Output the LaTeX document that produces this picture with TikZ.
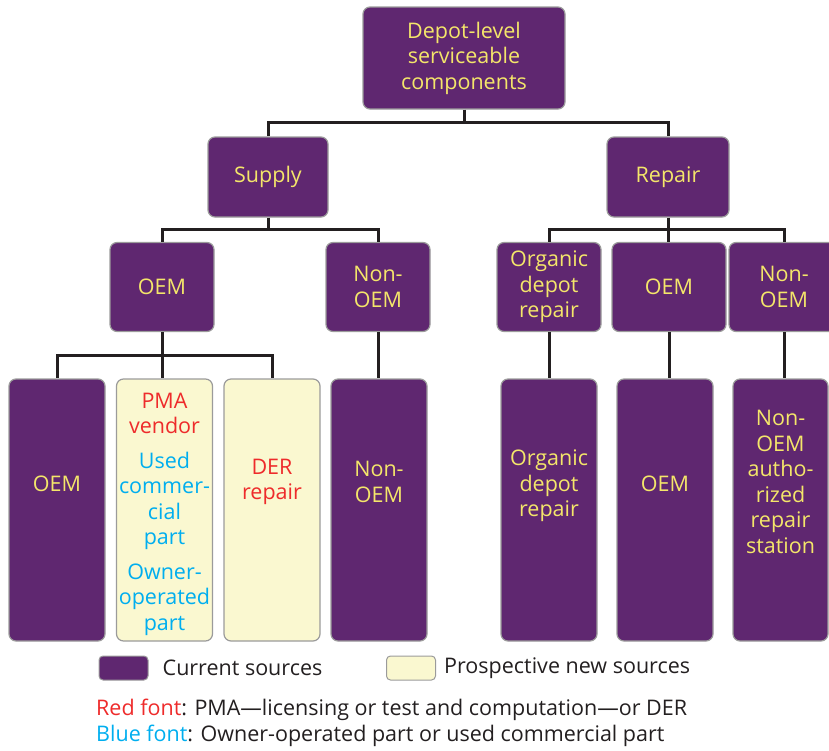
\documentclass[tikz,border=0pt]{standalone}
\usepackage{fontspec}
\setmainfont{Open Sans}
\usetikzlibrary{positioning}
\definecolor{Plum}{HTML}{5F2770}
\definecolor{Gold}{HTML}{F4E66A}
\definecolor{Cream}{HTML}{FAF8D0}
\definecolor{Edge}{HTML}{9B9B9B}
\definecolor{Wire}{HTML}{231F20}
\definecolor{Ink}{HTML}{231F20}
\definecolor{RedFont}{HTML}{EE2B2B}
\definecolor{BlueFont}{HTML}{00AEEF}
\tikzset{
  unit/.style={draw=Edge,line width=1.2pt,fill=Plum,rounded corners=7pt,align=center,text=Gold,font=\fontsize{21.5}{25.5}\selectfont,inner sep=2pt},
  tallunit/.style={unit,minimum width=96pt,minimum height=262pt},
  newunit/.style={tallunit,fill=Cream},
  boxtext/.style={align=center,text=Gold,font=\fontsize{21.5}{25.5}\selectfont,inner sep=0pt},
  keybox/.style={draw=Edge,line width=1pt,rounded corners=4pt,minimum width=49pt,minimum height=24pt,inner sep=0pt},
  keytext/.style={anchor=west,text=Ink,font=\fontsize{21.5}{25.5}\selectfont,inner sep=0pt},
  link/.style={draw=Wire,line width=3pt}
}

\begin{document}
\begin{tikzpicture}[x=1pt,y=-1pt]
  \useasboundingbox (0,0) rectangle (829,750);
  % top levels
  \node[unit,minimum width=202pt,minimum height=102pt] (root) at (464,58) {Depot-level\\serviceable\\components};
  \node[unit,minimum width=120pt,minimum height=80pt] (supply) at (268,177) {Supply};
  \node[unit,minimum width=122pt,minimum height=80pt] (repair) at (668,177) {Repair};
  \node[unit,minimum width=104pt,minimum height=89pt] (soem) at (162,287) {OEM};
  \node[unit,minimum width=104pt,minimum height=89pt] (snon) at (378,287) {Non-\\OEM};
  \node[unit,minimum width=104pt,minimum height=89pt] (org) at (549,287) {Organic\\depot\\repair};
  \node[unit,minimum width=114pt,minimum height=89pt] (roem) at (669,287) {OEM};
  \node[unit,minimum width=110pt,minimum height=89pt] (rnon) at (784,287) {Non-\\OEM};
  % sources
  \node[tallunit] (boem) at (57,510) {};
  \node[newunit] (pma) at (164.5,510) {};
  \node[newunit] (der) at (272,510) {};
  \node[tallunit] (bnon) at (379,510) {};
  \node[tallunit] (borg) at (549,510) {};
  \node[tallunit] (boemr) at (665,510) {};
  \node[tallunit,minimum width=95pt] (bnonr) at (780.5,510) {};
  \node[boxtext] (boemtxt) at (57,484) {OEM};
  \node[boxtext] (pmatxt) at (164.5,514) {\textcolor{RedFont}{PMA}\\\textcolor{RedFont}{vendor}\\[9pt]
    \textcolor{BlueFont}{Used}\\\textcolor{BlueFont}{commer-}\\\textcolor{BlueFont}{cial}\\\textcolor{BlueFont}{part}\\[9pt]
    \textcolor{BlueFont}{Owner-}\\\textcolor{BlueFont}{operated}\\\textcolor{BlueFont}{part}};
  \node[boxtext,text=RedFont] (dertxt) at (272,482) {DER\\repair};
  \node[boxtext] (bnontxt) at (379,482) {Non-\\OEM};
  \node[boxtext] (borgtxt) at (549,486) {Organic\\depot\\repair};
  \node[boxtext] (boemrtxt) at (665,484) {OEM};
  \node[boxtext] (bnonrtxt) at (780.5,482) {Non-\\OEM\\autho-\\rized\\repair\\station};
  % connectors
  \coordinate (busA) at (464,122);
  \coordinate (busB) at (268,229);
  \coordinate (busC) at (668,229);
  \coordinate (busD) at (162,355);
  \draw[link] (root.south) -- (busA) -| (supply.north);
  \draw[link] (busA) -| (repair.north);
  \draw[link] (supply.south) -- (busB) -| (soem.north);
  \draw[link] (busB) -| (snon.north);
  \draw[link] (repair.south) -- (busC) -| (org.north);
  \draw[link] (busC) -| (rnon.north);
  \draw[link] (busC) -- (roem.north -| busC);
  \draw[link] (soem.south) -- (busD) -| (boem.north);
  \draw[link] (busD) -| (der.north);
  \draw[link] (busD) -- (pma.north -| busD);
  \draw[link] (snon.south) -- (snon.south |- bnon.north);
  \draw[link] (org.south) -- (org.south |- borg.north);
  \draw[link] (roem.south) -- (roem.south |- boemr.north);
  \draw[link] (rnon.south) -- (rnon.south |- bnonr.north);
  % key
  \node[keybox,fill=Plum] (curkey) at (123.5,668) {};
  \node[keytext,right=14pt of curkey] (curtext) {Current sources};
  \node[keybox,fill=Cream] (newkey) at (411,668) {};
  \node[keytext,right=8pt of newkey] (newtext) {Prospective new sources};
  \node[keytext] (rednote) at (96,710) {\textcolor{RedFont}{Red font}: PMA---licensing or test and computation---or DER};
  \node[keytext] (bluenote) at (96,736) {\textcolor{BlueFont}{Blue font}: Owner-operated part or used commercial part};
\end{tikzpicture}
\end{document}
